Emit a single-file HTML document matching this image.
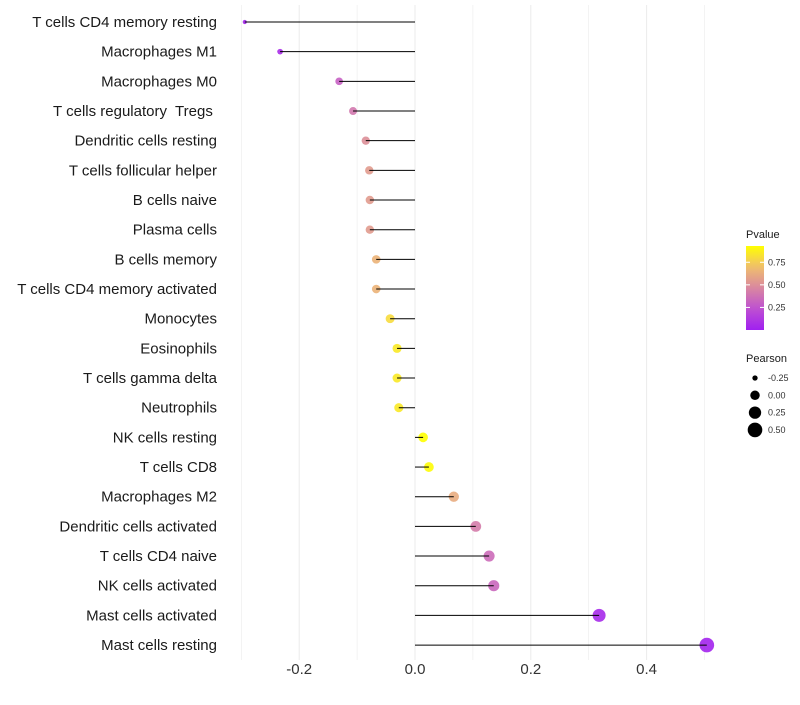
<!DOCTYPE html>
<html><head><meta charset="utf-8"><style>
body{margin:0;background:#fff;font-family:"Liberation Sans",sans-serif;}
svg text{font-family:"Liberation Sans",sans-serif;white-space:pre;}
</style></head><body>
<svg id="chart" width="800" height="700" xmlns="http://www.w3.org/2000/svg">
<g id="grid"></g><g id="marks"></g><g id="labels"></g><g id="legend"></g>
</svg>
<script>
const categories=["T cells CD4 memory resting","Macrophages M1","Macrophages M0","T cells regulatory  Tregs ","Dendritic cells resting","T cells follicular helper","B cells naive","Plasma cells","B cells memory","T cells CD4 memory activated","Monocytes","Eosinophils","T cells gamma delta","Neutrophils","NK cells resting","T cells CD8","Macrophages M2","Dendritic cells activated","T cells CD4 naive","NK cells activated","Mast cells activated","Mast cells resting"];
const pearson=[-0.294,-0.233,-0.131,-0.107,-0.085,-0.079,-0.078,-0.078,-0.067,-0.067,-0.043,-0.031,-0.031,-0.028,0.014,0.024,0.067,0.105,0.128,0.136,0.318,0.504];
const pvalues=[0.03,0.06,0.3,0.4,0.5,0.55,0.55,0.55,0.65,0.65,0.8,0.85,0.85,0.85,0.93,0.92,0.62,0.42,0.35,0.33,0.05,0.02];
const xTicks=[-0.2,0,0.2,0.4];
const xTickLabels=["-0.2","0.0","0.2","0.4"];
const NS="http://www.w3.org/2000/svg";
const x=v=>415+v*579;
const y=i=>22+i*29.67;
const pmin=0,pmax=0.93;
const stops=[[0,[160,32,240]],[0.25,[190,80,210]],[0.5,[217,135,160]],[0.75,[240,190,110]],[1,[255,255,0]]];
function col(p){let t=Math.max(0,Math.min(1,(p-pmin)/(pmax-pmin)));for(let k=1;k<stops.length;k++){if(t<=stops[k][0]){const a=stops[k-1],b=stops[k];const f=(t-a[0])/(b[0]-a[0]);return "rgb("+a[1].map((c,j)=>Math.round(c+(b[1][j]-c)*f)).join(",")+")";}}return "rgb(255,255,0)";}
const smin=-0.3,smax=0.51;
const rad=v=>Math.sqrt(4+(v-smin)/(smax-smin)*(54-4));
function mk(tag,attrs,parent){const e=document.createElementNS(NS,tag);for(const k in attrs)e.setAttribute(k,attrs[k]);document.getElementById(parent).appendChild(e);return e;}
for(let g=-0.3;g<=0.51;g+=0.1){const l=mk("line",{x1:x(g),x2:x(g),y1:5,y2:660,stroke:"#ebebeb","stroke-width":Math.abs(Math.round(g*10))%2===0?1:0.6},"grid");

}
categories.forEach((c,i)=>{
 const pt=mk("circle",{cx:x(pearson[i]),cy:y(i),r:rad(pearson[i]),fill:col(pvalues[i]),"fill-opacity":0.9},"marks");
 
 
 const ln=mk("line",{x1:x(0),x2:x(pearson[i]),y1:y(i),y2:y(i),stroke:"#000","stroke-width":1},"marks");
 
 
 const t=mk("text",{x:217,y:y(i)+5,"text-anchor":"end","font-size":15,fill:"#1a1a1a"},"labels");
 t.textContent=c;
 
 
});
xTicks.forEach((v,i)=>{const t=mk("text",{x:x(v),y:674,"text-anchor":"middle","font-size":15,fill:"#333"},"labels");t.textContent=xTickLabels[i];

});
const defs=mk("defs",{},"legend");
const lg=document.createElementNS(NS,"linearGradient");lg.setAttribute("id","pg");lg.setAttribute("x1","0");lg.setAttribute("y1","1");lg.setAttribute("x2","0");lg.setAttribute("y2","0");defs.appendChild(lg);
for(let k=0;k<=10;k++){const s=document.createElementNS(NS,"stop");s.setAttribute("offset",k/10);s.setAttribute("stop-color",col(pmin+k/10*(pmax-pmin)));lg.appendChild(s);}
let tt=mk("text",{x:746,y:238,"font-size":11,fill:"#1a1a1a"},"legend");tt.textContent="Pvalue";


const bar=mk("rect",{x:746,y:246,width:18,height:84,fill:"url(#pg)"},"legend");


[0.75,0.5,0.25].forEach(v=>{const yy=330-v/pmax*84;mk("line",{x1:746,x2:750,y1:yy,y2:yy,stroke:"#fff"},"legend");mk("line",{x1:760,x2:764,y1:yy,y2:yy,stroke:"#fff"},"legend");const t=mk("text",{x:768,y:yy+3,"font-size":9,fill:"#333"},"legend");t.textContent=v.toFixed(2);

});
tt=mk("text",{x:746,y:362,"font-size":11,fill:"#1a1a1a"},"legend");tt.textContent="Pearson";


[-0.25,0,0.25,0.5].forEach((v,i)=>{const yy=378+i*17.3;const c=mk("circle",{cx:755,cy:yy,r:rad(v),fill:"#000"},"legend");


const t=mk("text",{x:768,y:yy+3,"font-size":9,fill:"#333"},"legend");t.textContent=v.toFixed(2);

});
</script>
</body></html>
